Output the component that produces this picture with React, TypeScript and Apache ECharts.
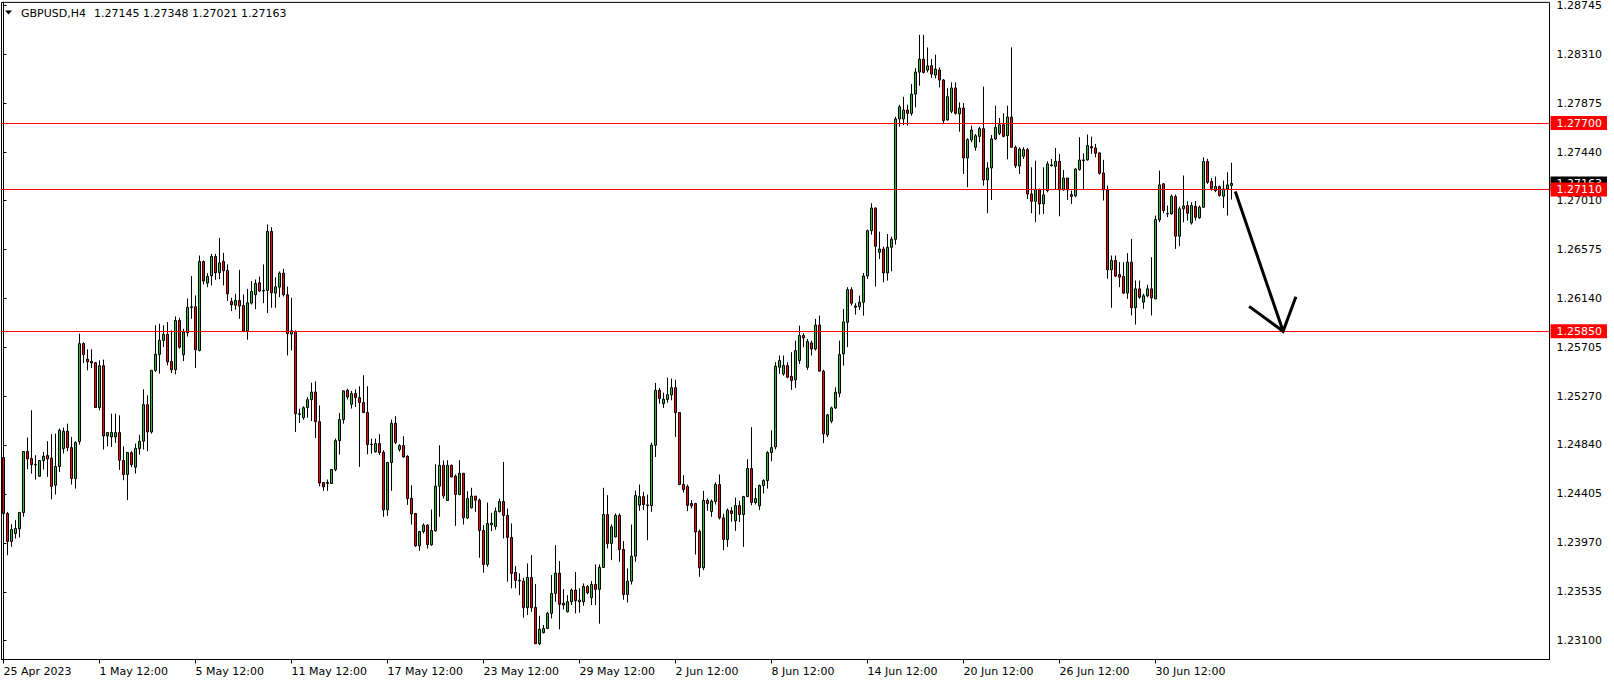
import React, { useEffect, useRef } from 'react';
import * as echarts from 'echarts';

// ---- OHLC data (GBPUSD H4), bar 0 = 25 Apr 2023 12:00 ----
const opens = [
  1.24728, 1.24230, 1.23982, 1.24053, 1.24094, 1.24239, 1.24781, 1.24719, 1.24665, 1.24562,
  1.24701, 1.24745, 1.24722, 1.24482, 1.24648, 1.24807, 1.24961, 1.24816, 1.24541, 1.24870,
  1.25740, 1.25601, 1.25583, 1.25571, 1.25172, 1.25544, 1.24920, 1.24911, 1.24911, 1.24950,
  1.24701, 1.24577, 1.24772, 1.24642, 1.24807, 1.24873, 1.25198, 1.24955, 1.25503, 1.25645,
  1.25769, 1.25823, 1.25582, 1.25508, 1.25946, 1.25641, 1.25837, 1.26062, 1.26068, 1.25680,
  1.26470, 1.26278, 1.26343, 1.26515, 1.26370, 1.26470, 1.26390, 1.26115, 1.26082, 1.26124,
  1.26079, 1.25852, 1.26100, 1.26174, 1.26281, 1.26207, 1.26213, 1.26737, 1.26189, 1.26242,
  1.26367, 1.26174, 1.25825, 1.25849, 1.25117, 1.25082, 1.25171, 1.25242, 1.25310, 1.25046,
  1.24506, 1.24497, 1.24497, 1.24621, 1.24878, 1.25065, 1.25325, 1.25201, 1.25296, 1.25260,
  1.25216, 1.25127, 1.24843, 1.24778, 1.24852, 1.24775, 1.24263, 1.24683, 1.25032, 1.24799,
  1.24834, 1.24739, 1.24366, 1.24230, 1.23943, 1.24070, 1.24127, 1.23952, 1.24076, 1.24473,
  1.24659, 1.24346, 1.24659, 1.24562, 1.24399, 1.24588, 1.24192, 1.24281, 1.24385, 1.24349,
  1.24080, 1.23778, 1.24130, 1.24115, 1.24248, 1.24337, 1.24213, 1.24018, 1.23707, 1.23636,
  1.23630, 1.23393, 1.23662, 1.23396, 1.23073, 1.23171, 1.23209, 1.23343, 1.23520, 1.23701,
  1.23434, 1.23357, 1.23446, 1.23550, 1.23446, 1.23446, 1.23582, 1.23482, 1.23600, 1.23556,
  1.23751, 1.24222, 1.23964, 1.24023, 1.24213, 1.23911, 1.23511, 1.23629, 1.23851, 1.24304,
  1.24381, 1.24307, 1.24301, 1.24837, 1.25325, 1.25207, 1.25243, 1.25284, 1.25349, 1.25127,
  1.24488, 1.24470, 1.24319, 1.24319, 1.24073, 1.23748, 1.24346, 1.24248, 1.24337, 1.24488,
  1.24192, 1.24000, 1.24254, 1.24165, 1.24301, 1.24221, 1.24381, 1.24630, 1.24328, 1.24298,
  1.24479, 1.24523, 1.24772, 1.24822, 1.25530, 1.25471, 1.25545, 1.25448, 1.25418, 1.25590,
  1.25812, 1.25530, 1.25746, 1.25693, 1.25906, 1.25495, 1.24929, 1.25051, 1.25169, 1.25299,
  1.25649, 1.25930, 1.26220, 1.26075, 1.26069, 1.26108, 1.26341, 1.26744, 1.26945, 1.26552,
  1.26581, 1.26368, 1.26596, 1.26667, 1.27736, 1.27736, 1.27816, 1.27786, 1.27958, 1.28153,
  1.28268, 1.28171, 1.28210, 1.28127, 1.28172, 1.28083, 1.27728, 1.27805, 1.28012, 1.27781,
  1.27834, 1.27390, 1.27550, 1.27485, 1.27582, 1.27651, 1.27195, 1.27301, 1.27559, 1.27609,
  1.27686, 1.27588, 1.27754, 1.27485, 1.27319, 1.27405, 1.27464, 1.27070, 1.27005, 1.27112,
  1.26982, 1.27100, 1.27328, 1.27316, 1.27360, 1.27106, 1.27212, 1.27065, 1.27053, 1.27287,
  1.27373, 1.27373, 1.27491, 1.27479, 1.27435, 1.27257, 1.27106, 1.26396, 1.26479, 1.26355,
  1.26337, 1.26189, 1.26464, 1.26059, 1.26227, 1.26109, 1.26165, 1.26227, 1.26138, 1.26840,
  1.27160, 1.26893, 1.26893, 1.27047, 1.26695, 1.26938, 1.26967, 1.26813, 1.26961, 1.26858,
  1.26952, 1.27358, 1.27180, 1.27100, 1.27136, 1.27050, 1.27115, 1.27145,
];

const highs = [
  1.24778, 1.24245, 1.24136, 1.24171, 1.24245, 1.24781, 1.24905, 1.25148, 1.24748, 1.24704,
  1.24778, 1.24873, 1.24935, 1.24941, 1.24985, 1.24994, 1.25029, 1.24911, 1.24873, 1.25829,
  1.25752, 1.25690, 1.25690, 1.25577, 1.25592, 1.25598, 1.24950, 1.25118, 1.25118, 1.25103,
  1.24828, 1.24778, 1.24784, 1.24852, 1.24929, 1.25334, 1.25281, 1.25503, 1.25903, 1.25917,
  1.25903, 1.25932, 1.25857, 1.25982, 1.25970, 1.25872, 1.26142, 1.26340, 1.26168, 1.26523,
  1.26479, 1.26367, 1.26538, 1.26538, 1.26680, 1.26547, 1.26444, 1.26148, 1.26183, 1.26396,
  1.26177, 1.26227, 1.26296, 1.26310, 1.26337, 1.26444, 1.26799, 1.26775, 1.26331, 1.26381,
  1.26405, 1.26248, 1.26148, 1.25857, 1.25162, 1.25183, 1.25265, 1.25393, 1.25405, 1.25191,
  1.24506, 1.24532, 1.24627, 1.24896, 1.25124, 1.25325, 1.25340, 1.25320, 1.25334, 1.25361,
  1.25459, 1.25361, 1.24896, 1.24896, 1.24935, 1.24793, 1.24689, 1.25065, 1.25095, 1.24846,
  1.24917, 1.24748, 1.24482, 1.24236, 1.24076, 1.24142, 1.24136, 1.24266, 1.24668, 1.24837,
  1.24701, 1.24704, 1.24665, 1.24577, 1.24704, 1.24591, 1.24429, 1.24459, 1.24385, 1.24364,
  1.24127, 1.24328, 1.24237, 1.24284, 1.24364, 1.24689, 1.24275, 1.24142, 1.23763, 1.23698,
  1.23659, 1.23787, 1.23861, 1.23603, 1.23322, 1.23239, 1.23357, 1.23683, 1.23949, 1.23807,
  1.23559, 1.23505, 1.23565, 1.23710, 1.23565, 1.23609, 1.23594, 1.23630, 1.23778, 1.23778,
  1.24459, 1.24393, 1.24133, 1.24231, 1.24231, 1.23985, 1.23742, 1.24133, 1.24434, 1.24488,
  1.24423, 1.24399, 1.24861, 1.25391, 1.25346, 1.25305, 1.25438, 1.25429, 1.25420, 1.25127,
  1.24571, 1.24488, 1.24349, 1.24325, 1.24088, 1.24432, 1.24364, 1.24355, 1.24508, 1.24577,
  1.24230, 1.24275, 1.24289, 1.24372, 1.24343, 1.24387, 1.24713, 1.24997, 1.24458, 1.24488,
  1.24535, 1.24784, 1.24970, 1.25577, 1.25634, 1.25634, 1.25575, 1.25664, 1.25767, 1.25900,
  1.25832, 1.25782, 1.25767, 1.25960, 1.25989, 1.25507, 1.25116, 1.25181, 1.25353, 1.25767,
  1.26048, 1.26241, 1.26241, 1.26099, 1.26167, 1.26368, 1.26753, 1.26987, 1.26951, 1.26735,
  1.26602, 1.26714, 1.26691, 1.27756, 1.27863, 1.27934, 1.27863, 1.28046, 1.28188, 1.28484,
  1.28484, 1.28372, 1.28269, 1.28308, 1.28195, 1.28092, 1.28009, 1.28062, 1.28062, 1.27884,
  1.27878, 1.27565, 1.27677, 1.27603, 1.27668, 1.28024, 1.27352, 1.27594, 1.27855, 1.27745,
  1.27787, 1.27855, 1.28373, 1.27500, 1.27485, 1.27485, 1.27479, 1.27307, 1.27366, 1.27115,
  1.27307, 1.27360, 1.27381, 1.27479, 1.27426, 1.27284, 1.27212, 1.27100, 1.27301, 1.27574,
  1.27432, 1.27598, 1.27580, 1.27515, 1.27441, 1.27373, 1.27145, 1.26523, 1.26523, 1.26464,
  1.26464, 1.26544, 1.26671, 1.26301, 1.26301, 1.26183, 1.26263, 1.26508, 1.26878, 1.27278,
  1.27166, 1.26967, 1.27065, 1.27065, 1.26958, 1.27234, 1.27006, 1.26997, 1.27006, 1.26967,
  1.27396, 1.27382, 1.27210, 1.27225, 1.27145, 1.27189, 1.27263, 1.27348,
];

const lows = [
  1.24201, 1.23860, 1.23934, 1.24008, 1.24017, 1.24201, 1.24624, 1.24585, 1.24532, 1.24556,
  1.24621, 1.24556, 1.24355, 1.24399, 1.24600, 1.24763, 1.24784, 1.24488, 1.24452, 1.24843,
  1.25568, 1.25503, 1.25524, 1.25172, 1.25148, 1.24799, 1.24828, 1.24822, 1.24858, 1.24618,
  1.24526, 1.24349, 1.24642, 1.24585, 1.24754, 1.24799, 1.24784, 1.24941, 1.25488, 1.25473,
  1.25710, 1.25547, 1.25479, 1.25467, 1.25695, 1.25585, 1.25804, 1.25961, 1.25523, 1.25671,
  1.26266, 1.26242, 1.26257, 1.26307, 1.26313, 1.26257, 1.26118, 1.26029, 1.26041, 1.25961,
  1.25843, 1.25775, 1.26088, 1.26047, 1.26198, 1.26100, 1.26011, 1.26059, 1.26059, 1.26153,
  1.26159, 1.25635, 1.25680, 1.24955, 1.25035, 1.25064, 1.25082, 1.25052, 1.24901, 1.24472,
  1.24432, 1.24432, 1.24494, 1.24606, 1.24754, 1.25029, 1.25243, 1.25163, 1.25177, 1.24645,
  1.25124, 1.24757, 1.24763, 1.24772, 1.24751, 1.24201, 1.24210, 1.24432, 1.24846, 1.24781,
  1.24727, 1.24307, 1.24133, 1.23934, 1.23899, 1.24053, 1.23919, 1.23943, 1.24070, 1.24201,
  1.24363, 1.24343, 1.24550, 1.24121, 1.24393, 1.24133, 1.24180, 1.24275, 1.24245, 1.23837,
  1.23704, 1.23757, 1.24074, 1.24086, 1.24239, 1.24009, 1.23624, 1.23565, 1.23565, 1.23505,
  1.23304, 1.23328, 1.23357, 1.23073, 1.23061, 1.23165, 1.23203, 1.23298, 1.23446, 1.23201,
  1.23378, 1.23351, 1.23417, 1.23343, 1.23349, 1.23411, 1.23511, 1.23417, 1.23417, 1.23251,
  1.23748, 1.23920, 1.23816, 1.24018, 1.23801, 1.23464, 1.23440, 1.23600, 1.23801, 1.24254,
  1.24260, 1.23993, 1.24245, 1.24733, 1.25207, 1.25169, 1.25216, 1.25237, 1.24911, 1.24482,
  1.24417, 1.24251, 1.24275, 1.23866, 1.23668, 1.23727, 1.24254, 1.24201, 1.24310, 1.24177,
  1.23905, 1.23934, 1.24156, 1.24076, 1.24156, 1.23934, 1.24378, 1.24304, 1.24310, 1.24260,
  1.24408, 1.24452, 1.24695, 1.24801, 1.25471, 1.25456, 1.25433, 1.25329, 1.25347, 1.25560,
  1.25708, 1.25507, 1.25634, 1.25678, 1.25495, 1.24856, 1.24909, 1.25033, 1.25160, 1.25264,
  1.25545, 1.25708, 1.26078, 1.25998, 1.26040, 1.25989, 1.26315, 1.26708, 1.26247, 1.26492,
  1.26285, 1.26300, 1.26383, 1.26620, 1.27668, 1.27682, 1.27676, 1.27765, 1.27839, 1.28032,
  1.28141, 1.28150, 1.28101, 1.28098, 1.28018, 1.27698, 1.27722, 1.27787, 1.27775, 1.27624,
  1.27248, 1.27130, 1.27529, 1.27455, 1.27529, 1.27144, 1.26899, 1.27017, 1.27550, 1.27594,
  1.27574, 1.27378, 1.27485, 1.27301, 1.27248, 1.27381, 1.27026, 1.26899, 1.26819, 1.26887,
  1.26893, 1.27085, 1.27313, 1.27106, 1.26872, 1.27100, 1.27017, 1.26982, 1.27041, 1.27278,
  1.27106, 1.27367, 1.27426, 1.27396, 1.27242, 1.27012, 1.26316, 1.26059, 1.26331, 1.26242,
  1.26183, 1.26138, 1.25990, 1.25910, 1.26138, 1.26050, 1.26153, 1.25990, 1.26135, 1.26819,
  1.26899, 1.26864, 1.26887, 1.26582, 1.26606, 1.26819, 1.26834, 1.26798, 1.26834, 1.26849,
  1.26946, 1.27160, 1.27100, 1.27086, 1.27047, 1.26946, 1.26878, 1.27021,
];

const closes = [
  1.24230, 1.23982, 1.24088, 1.24097, 1.24239, 1.24781, 1.24716, 1.24665, 1.24662, 1.24701,
  1.24739, 1.24716, 1.24470, 1.24648, 1.24970, 1.24961, 1.24816, 1.24541, 1.24861, 1.25740,
  1.25642, 1.25577, 1.25568, 1.25172, 1.25544, 1.24920, 1.24950, 1.24950, 1.24950, 1.24704,
  1.24577, 1.24772, 1.24665, 1.24810, 1.24873, 1.25198, 1.24955, 1.25503, 1.25645, 1.25769,
  1.25823, 1.25577, 1.25508, 1.25946, 1.25709, 1.25843, 1.26062, 1.26068, 1.25686, 1.26470,
  1.26296, 1.26337, 1.26515, 1.26370, 1.26458, 1.26387, 1.26183, 1.26085, 1.26124, 1.26074,
  1.25852, 1.26103, 1.26204, 1.26275, 1.26207, 1.26213, 1.26737, 1.26192, 1.26245, 1.26367,
  1.26174, 1.25828, 1.25854, 1.25117, 1.25112, 1.25171, 1.25242, 1.25310, 1.25046, 1.24502,
  1.24467, 1.24506, 1.24621, 1.24878, 1.25065, 1.25320, 1.25266, 1.25296, 1.25260, 1.25216,
  1.25127, 1.24843, 1.24846, 1.24852, 1.24772, 1.24263, 1.24683, 1.25032, 1.24861, 1.24834,
  1.24733, 1.24363, 1.24227, 1.23943, 1.24070, 1.24127, 1.23955, 1.24079, 1.24473, 1.24659,
  1.24387, 1.24659, 1.24556, 1.24399, 1.24588, 1.24192, 1.24364, 1.24385, 1.24349, 1.24080,
  1.23778, 1.24142, 1.24145, 1.24251, 1.24337, 1.24213, 1.24018, 1.23698, 1.23636, 1.23630,
  1.23393, 1.23662, 1.23393, 1.23073, 1.23201, 1.23209, 1.23343, 1.23520, 1.23701, 1.23423,
  1.23417, 1.23446, 1.23550, 1.23455, 1.23461, 1.23582, 1.23526, 1.23600, 1.23556, 1.23751,
  1.24222, 1.23964, 1.24112, 1.24213, 1.23911, 1.23511, 1.23629, 1.23851, 1.24390, 1.24381,
  1.24310, 1.24301, 1.24837, 1.25325, 1.25251, 1.25246, 1.25287, 1.25349, 1.25127, 1.24488,
  1.24443, 1.24304, 1.24298, 1.24067, 1.23748, 1.24346, 1.24319, 1.24340, 1.24488, 1.24192,
  1.24000, 1.24260, 1.24230, 1.24301, 1.24221, 1.24381, 1.24630, 1.24328, 1.24364, 1.24479,
  1.24523, 1.24772, 1.24816, 1.25539, 1.25590, 1.25545, 1.25442, 1.25412, 1.25678, 1.25812,
  1.25791, 1.25758, 1.25693, 1.25906, 1.25495, 1.24938, 1.25107, 1.25169, 1.25308, 1.25643,
  1.25933, 1.26220, 1.26099, 1.26063, 1.26108, 1.26341, 1.26744, 1.26945, 1.26605, 1.26581,
  1.26368, 1.26596, 1.26667, 1.27736, 1.27845, 1.27816, 1.27786, 1.27958, 1.28153, 1.28268,
  1.28150, 1.28209, 1.28136, 1.28180, 1.28083, 1.27722, 1.27935, 1.28012, 1.27787, 1.27834,
  1.27390, 1.27553, 1.27639, 1.27588, 1.27651, 1.27195, 1.27301, 1.27559, 1.27662, 1.27686,
  1.27582, 1.27754, 1.27485, 1.27322, 1.27470, 1.27464, 1.27070, 1.27005, 1.27112, 1.26982,
  1.27062, 1.27337, 1.27322, 1.27360, 1.27106, 1.27212, 1.27106, 1.27047, 1.27292, 1.27372,
  1.27367, 1.27500, 1.27479, 1.27432, 1.27254, 1.27106, 1.26396, 1.26479, 1.26340, 1.26331,
  1.26189, 1.26464, 1.26059, 1.26227, 1.26153, 1.26165, 1.26227, 1.26147, 1.26843, 1.27151,
  1.26923, 1.26896, 1.27050, 1.26695, 1.26938, 1.26964, 1.26899, 1.26967, 1.26864, 1.26952,
  1.27358, 1.27174, 1.27121, 1.27136, 1.27056, 1.27115, 1.27151, 1.27163,
];

// ---- axis / annotation values ----
const xTickLabels = [
  '25 Apr 2023', '1 May 12:00', '5 May 12:00', '11 May 12:00', '17 May 12:00',
  '23 May 12:00', '29 May 12:00', '2 Jun 12:00', '8 Jun 12:00', '14 Jun 12:00',
  '20 Jun 12:00', '26 Jun 12:00', '30 Jun 12:00',
];
const barsPerLabel = 24;
const totalSlots = 387; // visible bar slots incl. empty space on the right

const yTickValues = [
  1.28745, 1.28310, 1.27875, 1.27440, 1.27010, 1.26575, 1.26140,
  1.25705, 1.25270, 1.24840, 1.24405, 1.23970, 1.23535, 1.23100,
];
const yMin = 1.22933;
const yMax = 1.28773;

const levelLines = [1.27700, 1.27110, 1.25850];
const currentPrice = 1.27163;
const symbolName = 'GBPUSD,H4';

// arrow drawn on the chart (bar-slot index, price)
const arrowShaft = [[307.95, 1.27092], [319.9, 1.25850]];
const arrowHead = [[311.4, 1.26071], [319.9, 1.25850], [323.1, 1.26156]];

const FONT = '"DejaVu Sans", Verdana, sans-serif';
const BULL = '#2EB82E';
const BEAR = '#FF0000';

function pad(n: number) {
  return n < 10 ? '0' + n : '' + n;
}

function buildCategories(): string[] {
  const out: string[] = [];
  let t = Date.UTC(2023, 3, 25, 12, 0);
  while (out.length < opens.length) {
    const d = new Date(t);
    const wd = d.getUTCDay();
    if (wd !== 0 && wd !== 6) {
      out.push(
        `${d.getUTCFullYear()}.${pad(d.getUTCMonth() + 1)}.${pad(d.getUTCDate())} ${pad(d.getUTCHours())}:00`
      );
    }
    t += 4 * 3600 * 1000;
  }
  for (let i = out.length; i < totalSlots; i++) out.push('slot-' + i);
  return out;
}

export default function App() {
  const ref = useRef<HTMLDivElement>(null);

  useEffect(() => {
    if (!ref.current) return;
    const chart = echarts.init(ref.current, undefined, { renderer: 'svg' });

    const categories = buildCategories();
    const candleData = opens.map((o, i) => [o, closes[i], lows[i], highs[i]]);
    const n = opens.length;
    const showTick = (index: number) =>
      index % barsPerLabel === 0 && index < n && index / barsPerLabel < xTickLabels.length;
    const last = n - 1;
    const ohlcText = [opens[last], highs[last], lows[last], closes[last]].map((v) => v.toFixed(5)).join(' ');

    const labelBase = {
      show: true,
      position: 'end',
      distance: 1,
      formatter: (p: any) => Number(p.value).toFixed(5),
      color: '#ffffff',
      backgroundColor: BEAR,
      padding: [1, 5, 1, 6],
      fontFamily: FONT,
      fontSize: 11,
      lineHeight: 12,
    };

    const option: any = {
      animation: false,
      backgroundColor: '#ffffff',
      textStyle: { fontFamily: FONT },
      grid: {
        left: 1.5,
        right: 64.5,
        top: 1.5,
        bottom: 24.5,
        show: true,
        borderColor: '#000000',
        borderWidth: 1,
        backgroundColor: 'transparent',
        containLabel: false,
      },
      xAxis: [
        {
          type: 'category',
          data: categories,
          boundaryGap: true,
          axisLine: { show: true, lineStyle: { color: '#000000', width: 1 } },
          axisTick: {
            show: true,
            alignWithLabel: true,
            length: 4,
            interval: (index: number) => showTick(index),
            lineStyle: { color: '#000000' },
          },
          axisLabel: {
            show: true,
            interval: (index: number) => showTick(index),
            formatter: (_v: string, index: number) => (showTick(index) ? xTickLabels[index / barsPerLabel] : ''),
            align: 'left',
            margin: 6,
            color: '#000000',
            fontFamily: FONT,
            fontSize: 11,
          },
          splitLine: { show: false },
        },
        {
          type: 'value',
          min: -0.5,
          max: totalSlots - 0.5,
          show: false,
        },
      ],
      yAxis: {
        type: 'value',
        position: 'right',
        min: yMin,
        max: yMax,
        splitLine: { show: false },
        axisLine: { show: true, lineStyle: { color: '#000000', width: 1 } },
        axisTick: { show: true, length: 3, customValues: yTickValues, lineStyle: { color: '#000000' } },
        axisLabel: {
          customValues: yTickValues,
          formatter: (v: number) => v.toFixed(5),
          margin: 7,
          color: '#000000',
          fontFamily: FONT,
          fontSize: 11,
        },
      },
      graphic: [
        {
          type: 'polygon',
          silent: true,
          shape: { points: [[5, 10.5], [12, 10.5], [8.5, 14.5]] },
          style: { fill: '#000000' },
        },
        {
          type: 'text',
          silent: true,
          x: 21,
          y: 13,
          style: { text: symbolName, fill: '#000000', font: `11px ${FONT}`, verticalAlign: 'middle', textVerticalAlign: 'middle' },
        },
        {
          type: 'text',
          silent: true,
          x: 94,
          y: 13,
          style: { text: ohlcText, fill: '#000000', font: `11px ${FONT}`, verticalAlign: 'middle', textVerticalAlign: 'middle' },
        },
      ],
      series: [
        {
          type: 'candlestick',
          xAxisIndex: 0,
          yAxisIndex: 0,
          data: candleData,
          barWidth: 2,
          itemStyle: {
            color: BULL,
            color0: BEAR,
            borderColor: '#000000',
            borderColor0: '#000000',
            borderColorDoji: '#000000',
            borderWidth: 1,
          },
          markLine: {
            silent: true,
            symbol: ['none', 'none'],
            animation: false,
            precision: 5,
            label: labelBase,
            lineStyle: { color: BEAR, width: 1, type: 'solid' },
            data: [
              {
                yAxis: currentPrice,
                lineStyle: { color: 'rgba(0,0,0,0)', width: 0 },
                label: { ...labelBase, backgroundColor: '#000000' },
              },
              ...levelLines.map((v) => ({
                yAxis: v,
                lineStyle: { color: BEAR, width: 1, type: 'solid' },
                label: labelBase,
              })),
            ],
          },
        },
        {
          type: 'line',
          xAxisIndex: 1,
          yAxisIndex: 0,
          data: arrowShaft,
          symbol: 'none',
          silent: true,
          lineStyle: { color: '#000000', width: 3 },
          z: 5,
        },
        {
          type: 'line',
          xAxisIndex: 1,
          yAxisIndex: 0,
          data: arrowHead,
          symbol: 'none',
          silent: true,
          lineStyle: { color: '#000000', width: 3, join: 'miter' },
          z: 5,
        },
      ],
    };

    chart.setOption(option);
    return () => {
      chart.dispose();
    };
  }, []);

  return (
    <div
      ref={ref}
      style={{ position: 'fixed', left: 0, top: 0, width: 1614, height: 684, background: '#ffffff' }}
    />
  );
}
